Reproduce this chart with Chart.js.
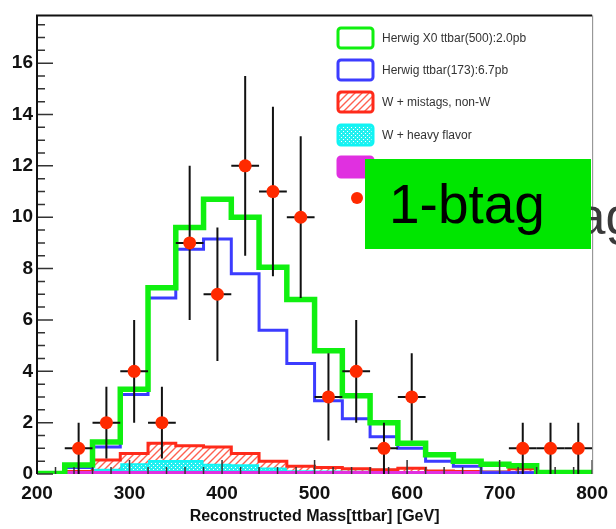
<!DOCTYPE html>
<html>
<head>
<meta charset="utf-8">
<script src="https://cdn.jsdelivr.net/npm/chart.js@4.4.0/dist/chart.umd.min.js"></script>
<style>
html, body { margin: 0; padding: 0; background: #fff; }
canvas { display: block; }
</style>
</head>
<body>
<canvas id="massChart" width="616" height="529"></canvas>
<script>
// 30 GeV bins from 200 to 800
const binEdges = [200, 230, 260, 290, 320, 350, 380, 410, 440, 470, 500, 530, 560, 590, 620, 650, 680, 710, 740, 770, 800];

// histogram contents per bin
const x0Ttbar500 = [0.02, 0.35, 1.25, 3.3, 7.25, 9.6, 10.7, 10.0, 8.05, 6.8, 4.8, 3.05, 2.0, 1.2, 0.75, 0.5, 0.38, 0.32, 0.06, 0.06];
const ttbar173   = [0.0, 0.25, 1.05, 3.1, 6.85, 8.75, 9.15, 7.8, 5.6, 4.3, 2.85, 2.15, 1.45, 1.0, 0.5, 0.3, 0.05, 0.05, 0.03, 0.03];
// stacked tops of the background pieces
const wMistagTop = [null, 0.1, 0.55, 0.8, 1.2, 1.1, 1.05, 0.8, 0.5, 0.3, 0.25, 0.2, 0.17, 0.22, 0.12, 0.1, 0.08, 0.2, 0.06, 0.06];
const wHeavyTop  = [null, 0.08, 0.2, 0.42, 0.55, 0.55, 0.4, 0.38, 0.25, 0.15, 0.14, 0.13, 0.13, 0.12, 0.06, 0.06, 0.06, 0.06, 0.06, 0.06];
const otherBkg   = [null, 0.06, 0.06, 0.06, 0.06, 0.06, 0.06, 0.06, 0.06, 0.06, 0.06, 0.06, 0.06, 0.06, 0.06, 0.06, 0.06, 0.06, 0.06, 0.06];

// data points
const dataX   = [245, 275, 305, 335, 365, 395, 425, 455, 485, 515, 545, 575, 605, 725, 755, 785];
const dataY   = [1, 2, 4, 2, 9, 7, 12, 11, 10, 3, 4, 1, 3, 1, 1, 1];
const dataErr = [1, 1.4, 2, 1.4, 3, 2.6, 3.5, 3.3, 3.15, 1.7, 2, 1, 1.7, 1, 1, 1];
const dataHalfBin = 15;

const xTickLabels = [200, 300, 400, 500, 600, 700, 800];
const yTickLabels = [0, 2, 4, 6, 8, 10, 12, 14, 16];

const legendLabels = ['Herwig X0 ttbar(500):2.0pb', 'Herwig ttbar(173):6.7pb', 'W + mistags, non-W', 'W + heavy flavor', 'Other', 'Data'];

const FONT = '"Liberation Sans", Arial, sans-serif';

// turn bin contents into step points for a stepped line
function histPoints(vals) {
    const pts = [];
    let last = null;
    vals.forEach((v, i) => {
        if (v === null) return;
        pts.push({ x: binEdges[i], y: v });
        last = v;
    });
    pts.push({ x: binEdges[binEdges.length - 1], y: last });
    return pts;
}

function makeHatch() {
    const c = document.createElement('canvas');
    c.width = 7; c.height = 7;
    const g = c.getContext('2d');
    g.fillStyle = '#fff';
    g.fillRect(0, 0, 7, 7);
    g.strokeStyle = '#ff6050';
    g.lineWidth = 1.4;
    g.beginPath();
    g.moveTo(0, 7); g.lineTo(7, 0);
    g.moveTo(-2, 2); g.lineTo(2, -2);
    g.moveTo(5, 9); g.lineTo(9, 5);
    g.stroke();
    return g.createPattern(c, 'repeat');
}

function makeDots() {
    const c = document.createElement('canvas');
    c.width = 4; c.height = 4;
    const g = c.getContext('2d');
    g.fillStyle = '#22f0f0';
    g.fillRect(0, 0, 4, 4);
    g.fillStyle = '#ffffff';
    g.fillRect(1, 1, 1, 1);
    g.fillRect(3, 3, 1, 1);
    return g.createPattern(c, 'repeat');
}

const hatch = makeHatch();
const dots = makeDots();

// error bars under the data markers
const errorBars = {
    id: 'errorBars',
    beforeDatasetDraw(chart, args) {
        if (args.index !== 5) return;
        const { ctx, scales: { x, y } } = chart;
        ctx.save();
        ctx.strokeStyle = '#111';
        ctx.lineWidth = 2;
        dataX.forEach((xv, i) => {
            const px = x.getPixelForValue(xv);
            const py = y.getPixelForValue(dataY[i]);
            ctx.beginPath();
            ctx.moveTo(px, y.getPixelForValue(Math.max(0, dataY[i] - dataErr[i])));
            ctx.lineTo(px, y.getPixelForValue(dataY[i] + dataErr[i]));
            ctx.moveTo(x.getPixelForValue(xv - dataHalfBin), py);
            ctx.lineTo(x.getPixelForValue(xv + dataHalfBin), py);
            ctx.stroke();
        });
        ctx.restore();
    }
};

// ROOT style frame with inner ticks
const frameTicks = {
    id: 'frameTicks',
    afterDatasetsDraw(chart) {
        const { ctx, chartArea: a, scales: { x, y } } = chart;
        ctx.save();
        ctx.strokeStyle = '#333';
        ctx.lineWidth = 1.5;
        ctx.beginPath();
        for (let v = 0; v <= 17.5; v += 0.5) {
            const py = y.getPixelForValue(v);
            const len = v % 2 === 0 ? 16 : 8;
            ctx.moveTo(a.left, py);
            ctx.lineTo(a.left + len, py);
        }
        for (let v = 200; v <= 800; v += 20) {
            const px = x.getPixelForValue(v);
            const len = v % 100 === 0 ? 14 : 7;
            ctx.moveTo(px, a.bottom);
            ctx.lineTo(px, a.bottom - len);
        }
        ctx.stroke();
        ctx.strokeStyle = '#111';
        ctx.lineWidth = 2;
        ctx.beginPath();
        ctx.moveTo(a.left, a.bottom);
        ctx.lineTo(a.left, a.top);
        ctx.lineTo(a.right, a.top);
        ctx.stroke();
        ctx.strokeStyle = '#888';
        ctx.lineWidth = 1;
        ctx.beginPath();
        ctx.moveTo(a.right + 0.5, a.top);
        ctx.lineTo(a.right + 0.5, a.bottom);
        ctx.stroke();
        ctx.restore();
    }
};

// legend and the "1-btag" label
const overlay = {
    id: 'overlay',
    afterDraw(chart) {
        const ctx = chart.ctx;
        const ds = chart.data.datasets;
        // rows: green, blue, red hatch, cyan dots, magenta
        const rows = [[38, 0], [70, 1], [102, 3], [135, 2], [167, 4]];
        ctx.save();
        ctx.font = '12px ' + FONT;
        ctx.textBaseline = 'middle';
        rows.forEach(([ry, di]) => {
            const d = ds[di];
            ctx.beginPath();
            ctx.roundRect(338, ry - 10, 35, 20, 3);
            ctx.fillStyle = d.backgroundColor || '#fff';
            ctx.fill();
            ctx.lineWidth = 3;
            ctx.strokeStyle = d.borderColor;
            ctx.stroke();
            ctx.fillStyle = '#333';
            ctx.fillText(d.label, 382, ry + 1);
        });
        ctx.fillStyle = ds[5].pointBackgroundColor;
        ctx.beginPath();
        ctx.arc(357, 198, 6, 0, Math.PI * 2);
        ctx.fill();
        ctx.fillStyle = '#333';
        ctx.fillText(ds[5].label, 382, 198);

        // text peeking out behind the box
        ctx.font = '52px ' + FONT;
        ctx.textBaseline = 'alphabetic';
        ctx.fillStyle = '#3a3a3a';
        ctx.fillText('1-btag', 487, 234);

        ctx.fillStyle = '#00e600';
        ctx.fillRect(365, 159, 226, 90);
        ctx.fillStyle = '#000';
        ctx.font = '55px ' + FONT;
        ctx.fillText('1-btag', 389, 223);
        ctx.restore();
    }
};

new Chart(document.getElementById('massChart'), {
    type: 'line',
    data: {
        datasets: [
            {
                label: legendLabels[0],
                data: histPoints(x0Ttbar500),
                borderColor: '#10f010',
                borderWidth: 5.5,
                stepped: true,
                fill: false,
                pointRadius: 0,
                order: 1
            },
            {
                label: legendLabels[1],
                data: histPoints(ttbar173),
                borderColor: '#3c3cff',
                borderWidth: 3,
                stepped: true,
                fill: false,
                pointRadius: 0,
                order: 2
            },
            {
                label: legendLabels[3],
                data: histPoints(wHeavyTop),
                borderColor: '#10f4f4',
                backgroundColor: dots,
                borderWidth: 4,
                stepped: true,
                fill: 'origin',
                pointRadius: 0,
                order: 5
            },
            {
                label: legendLabels[2],
                data: histPoints(wMistagTop),
                borderColor: '#ff2a1a',
                backgroundColor: hatch,
                borderWidth: 3,
                stepped: true,
                fill: '-1',
                pointRadius: 0,
                order: 4
            },
            {
                label: legendLabels[4],
                data: histPoints(otherBkg),
                borderColor: '#e030e0',
                backgroundColor: '#e030e0',
                borderWidth: 3,
                stepped: true,
                fill: 'origin',
                pointRadius: 0,
                order: 3
            },
            {
                label: legendLabels[5],
                data: dataX.map((xv, i) => ({ x: xv, y: dataY[i] })),
                showLine: false,
                pointRadius: 6.5,
                pointBackgroundColor: '#ff2a00',
                pointBorderWidth: 0,
                order: 0
            }
        ]
    },
    options: {
        responsive: false,
        animation: false,
        layout: { padding: { top: 12, right: 18, left: 0, bottom: 0 } },
        plugins: {
            legend: { display: false },
            tooltip: { enabled: false }
        },
        scales: {
            x: {
                type: 'linear',
                min: 200,
                max: 800,
                afterFit: s => { s.height = 55; },
                afterBuildTicks: s => { s.ticks = xTickLabels.map(v => ({ value: v })); },
                grid: { display: false, drawTicks: false },
                border: { display: false },
                ticks: {
                    padding: 8,
                    autoSkip: false,
                    maxRotation: 0,
                    color: '#111',
                    font: { family: FONT, size: 19, weight: 'bold' }
                },
                title: {
                    display: true,
                    text: 'Reconstructed Mass[ttbar] [GeV]',
                    color: '#111',
                    padding: { top: 0, bottom: 3 },
                    font: { family: FONT, size: 16, weight: 'bold' }
                }
            },
            y: {
                min: 0,
                max: 17.86,
                afterFit: s => { s.width = 37; },
                afterBuildTicks: s => { s.ticks = yTickLabels.map(v => ({ value: v })); },
                grid: { display: false, drawTicks: false },
                border: { display: false },
                ticks: {
                    padding: 4,
                    color: '#111',
                    font: { family: FONT, size: 19, weight: 'bold' }
                }
            }
        }
    },
    plugins: [errorBars, frameTicks, overlay]
});
</script>
</body>
</html>
